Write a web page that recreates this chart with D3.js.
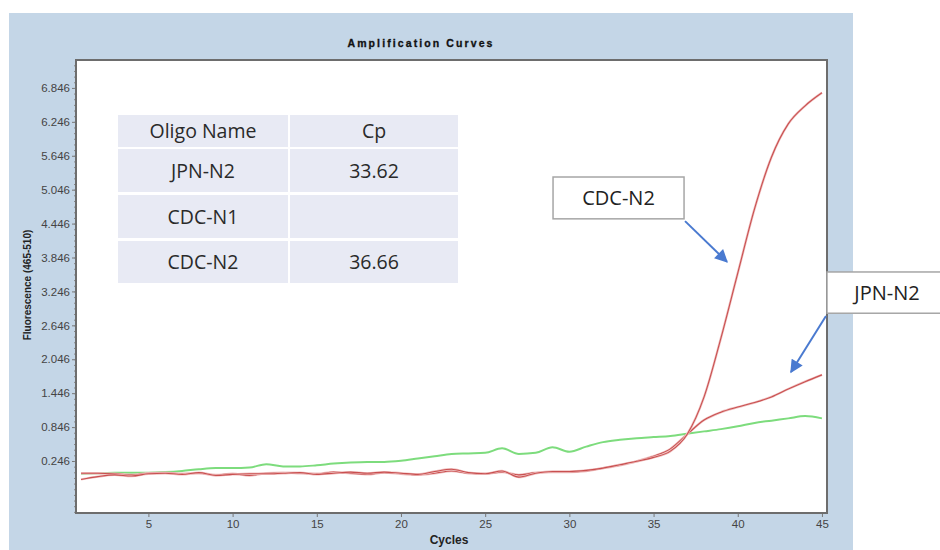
<!DOCTYPE html>
<html><head><meta charset="utf-8">
<script src="https://cdn.jsdelivr.net/npm/d3@7"></script>
<style>body{margin:0;background:#fff}svg{display:block}</style>
</head><body>
<svg id="c" width="940" height="550"></svg>
<script>
const cycles = d3.range(1, 46);
const cdcN1 = [0.02,0.03,0.04,0.04,0.04,0.05,0.07,0.10,0.12,0.12,0.13,0.19,0.15,0.15,0.17,0.20,0.22,0.23,0.23,0.25,0.29,0.33,0.37,0.38,0.39,0.47,0.37,0.39,0.49,0.41,0.50,0.58,0.62,0.65,0.67,0.69,0.73,0.77,0.81,0.86,0.92,0.96,1.00,1.04,1.00];
const jpnN2 = [0.03,0.03,0.02,0.00,0.03,0.04,0.02,0.03,0.00,0.02,-0.01,0.03,0.04,0.03,0.02,0.05,0.03,0.01,0.04,0.02,0.00,0.03,0.07,0.03,0.02,0.05,0.00,0.04,0.05,0.05,0.07,0.12,0.17,0.24,0.33,0.46,0.72,0.97,1.11,1.20,1.28,1.38,1.52,1.65,1.77];
const cdcN2 = [-0.08,-0.03,0.00,-0.02,0.02,0.03,0.01,0.04,-0.01,0.01,0.02,0.02,0.03,0.04,0.01,0.03,0.05,0.03,0.05,0.03,0.01,0.06,0.10,0.04,0.02,0.07,-0.04,0.03,0.06,0.06,0.08,0.12,0.18,0.24,0.31,0.42,0.72,1.38,2.42,3.57,4.71,5.62,6.21,6.53,6.76];
const yTicks = [0.246,0.846,1.446,2.046,2.646,3.246,3.846,4.446,5.046,5.646,6.246,6.846];
const xTicks = [5,10,15,20,25,30,35,40,45];
const tableHeader = ["Oligo Name","Cp"];
const tableNames = ["JPN-N2","CDC-N1","CDC-N2"];
const tableCp = ["33.62","","36.66"];

const svg = d3.select("#c");
const L=76,R=827,T=60,B=513;
const x = d3.scaleLinear().domain([0.7,45.3]).range([L,R]);
const y = d3.scaleLinear().domain([-0.674,7.34]).range([B,T]);

svg.append("rect").attr("x",9).attr("y",13).attr("width",844).attr("height",537).attr("fill","#c4d6e7");
svg.append("rect").attr("x",L).attr("y",T).attr("width",R-L).attr("height",B-T).attr("fill","#fff");

svg.append("text").attr("x",421).attr("y",47).attr("text-anchor","middle")
  .attr("font-family","Liberation Sans, Arial").attr("font-weight","900").attr("font-size",10.5)
  .attr("letter-spacing","2.1px").attr("fill","#111").attr("stroke","#111").attr("stroke-width",0.3).text("Amplification Curves");

// axes
const yAxis = d3.axisLeft(y).tickValues(yTicks).tickFormat(d3.format(".3f")).tickSize(4).tickPadding(2);
const gy = svg.append("g").attr("transform",`translate(${L},0)`).call(yAxis);
const minor = d3.range(-0.654,7.34,0.1);
svg.append("g").attr("transform",`translate(${L},0)`).call(d3.axisLeft(y).tickValues(minor).tickFormat("").tickSize(2))
  .call(g=>g.select(".domain").remove()).selectAll("line").attr("stroke","#888");
const xAxis = d3.axisBottom(x).tickValues(xTicks).tickSize(4).tickPadding(3);
const gx = svg.append("g").attr("transform",`translate(0,${B})`).call(xAxis);
[gx,gy].forEach(g=>{
  g.select(".domain").remove();
  g.selectAll("line").attr("stroke","#777");
  g.selectAll("text").attr("font-family","Liberation Sans Narrow, Liberation Sans, Arial").attr("font-size",11.5).attr("fill","#444");
});

svg.append("text").attr("x",449).attr("y",544).attr("text-anchor","middle")
  .attr("font-family","Liberation Sans Narrow, Liberation Sans, Arial").attr("font-weight","bold").attr("font-size",12).attr("fill","#222").text("Cycles");
svg.append("text").attr("transform","translate(31,285) rotate(-90)").attr("text-anchor","middle")
  .attr("font-family","Liberation Sans Narrow, Liberation Sans, Arial").attr("font-weight","bold").attr("font-size",10).attr("fill","#222").text("Fluorescence (465-510)");

// curves
svg.append("clipPath").attr("id","clip").append("rect").attr("x",L).attr("y",T).attr("width",R-L).attr("height",B-T);
const line = d3.line().x((d,i)=>x(cycles[i])).y(d=>y(d)).curve(d3.curveMonotoneX);
const cg = svg.append("g").attr("clip-path","url(#clip)");
cg.append("path").attr("d",line(cdcN1)).attr("fill","none").attr("stroke","#7ddc7d").attr("stroke-width",2);
[jpnN2,cdcN2].forEach(s=>{
  cg.append("path").attr("d",line(s)).attr("fill","none").attr("stroke","#efc0c0").attr("stroke-width",2.4);
  cg.append("path").attr("d",line(s)).attr("fill","none").attr("stroke","#c95050").attr("stroke-width",1.1);
});

// frame
svg.append("rect").attr("x",L).attr("y",T).attr("width",R-L).attr("height",B-T).attr("fill","none").attr("stroke","#6d6d6d").attr("stroke-width",2);

// table
const tx0=118, tc=288, tx1=458;
const rowsY=[[115,147],[149,192],[195,238],[241,283]];
const rows=[tableHeader].concat(tableNames.map((n,i)=>[n,tableCp[i]]));
const tg=svg.append("g");
rows.forEach((r,i)=>{
  const [a,b]=rowsY[i];
  tg.append("rect").attr("x",tx0).attr("y",a).attr("width",tc-tx0).attr("height",b-a).attr("fill","#e8eaf4");
  tg.append("rect").attr("x",tc+2).attr("y",a).attr("width",tx1-tc-2).attr("height",b-a).attr("fill","#e8eaf4");
  [[ (tx0+tc)/2, r[0]], [(tc+2+tx1)/2, r[1]]].forEach(([cx,t])=>{
    tg.append("text").attr("x",cx).attr("y",(a+b)/2).attr("dy","0.36em").attr("text-anchor","middle")
      .attr("font-family","Open Sans, Lato, sans-serif").attr("font-size",19.5).attr("fill","#2a2a2a").text(t);
  });
});

// annotations (in data coordinates)
const defs=svg.append("defs");
defs.append("marker").attr("id","ah").attr("viewBox","0 0 10 10").attr("refX",9).attr("refY",5)
  .attr("markerWidth",7).attr("markerHeight",6.5).attr("orient","auto").attr("markerUnits","strokeWidth")
  .append("path").attr("d","M0,0L10,5L0,10z").attr("fill","#4a7ad0");
const notes=[
  {label:"CDC-N2",box:[29.03,5.27,36.81,4.53],from:[36.87,4.49],to:[39.36,3.77]},
  {label:"JPN-N2",box:[45.3,3.59,52.5,2.86],from:[45.24,2.81],to:[43.16,1.82]}
];
notes.forEach(n=>{
  const [c0,v0,c1,v1]=n.box;
  svg.append("line").attr("x1",x(n.from[0])).attr("y1",y(n.from[1])).attr("x2",x(n.to[0])).attr("y2",y(n.to[1]))
    .attr("stroke","#4a7ad0").attr("stroke-width",2).attr("marker-end","url(#ah)");
  svg.append("rect").attr("x",x(c0)).attr("y",y(v0)).attr("width",x(c1)-x(c0)).attr("height",y(v1)-y(v0))
    .attr("fill","#fff").attr("stroke","#a6a6a6").attr("stroke-width",1.5);
  const cx = n.label==="JPN-N2" ? x(c0)+60 : (x(c0)+x(c1))/2;
  svg.append("text").attr("x",cx).attr("y",(y(v0)+y(v1))/2).attr("dy","0.36em").attr("text-anchor","middle")
    .attr("font-family","Open Sans, Lato, sans-serif").attr("font-size",20).attr("fill","#222").text(n.label);
});
</script>
</body></html>
